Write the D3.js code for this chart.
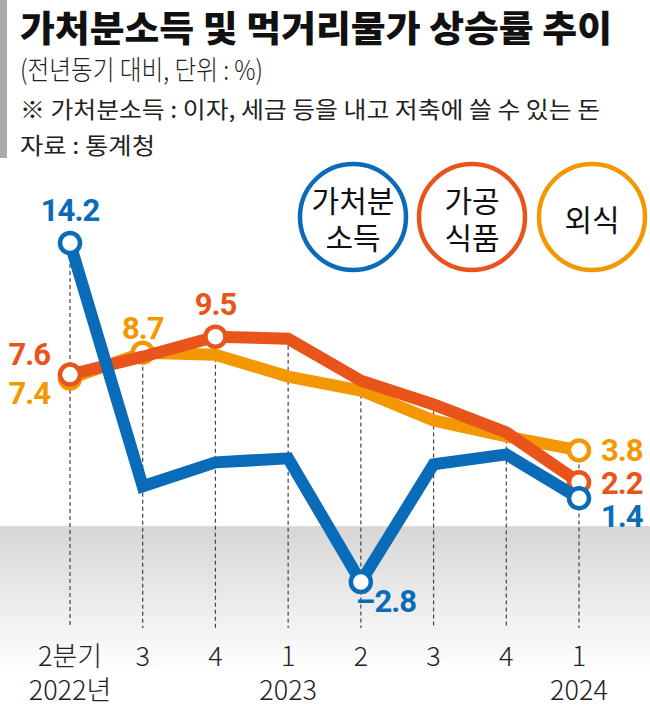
<!DOCTYPE html>
<html><head><meta charset="utf-8">
<script src="https://cdn.jsdelivr.net/npm/d3@7"></script>
<style>body{margin:0;background:#fff}svg{display:block}</style>
</head><body>
<svg id="c" width="650" height="707"></svg>
<script>
const categories = ["2분기","3","4","1","2","3","4","1"];
const yearLabels = ["2022년","","","2023","","","","2024"];
const income = [14.2, 2.0, 3.2, 3.4, -2.8, 3.1, 3.6, 1.4];
const processed = [7.6, 8.5, 9.5, 9.4, 7.3, 6.1, 4.7, 2.2];
const dining = [7.4, 8.7, 8.6, 7.5, 6.8, 5.3, 4.5, 3.8];

const C = {blue:"#0a6cb8", red:"#e8541a", orange:"#f39800"};
const KR = "'Noto Sans CJK KR','Noto Sans',sans-serif";
const NUM = "'Roboto','Liberation Sans',sans-serif";

const svg = d3.select("#c");
const x = d3.scalePoint().domain(d3.range(categories.length)).range([70, 579]);
const y = d3.scaleLinear().domain([-2.8, 14.2]).range([582, 243]);

// gray negative zone gradient
const defs = svg.append("defs");
const g = defs.append("linearGradient").attr("id","gz").attr("x1",0).attr("x2",0).attr("y1",0).attr("y2",1);
g.append("stop").attr("offset","0").attr("stop-color","#d6d6d6");
g.append("stop").attr("offset","0.8").attr("stop-color","#ffffff");
svg.append("rect").attr("x",0).attr("width",650).attr("y",y(0)).attr("height",707-y(0)).attr("fill","url(#gz)");

// header
svg.append("rect").attr("x",0).attr("y",0).attr("width",7).attr("height",158).attr("fill","#a9a9a9");
svg.append("text").attr("x",20).attr("y",42).attr("font-family",KR).attr("font-weight",900)
  .attr("font-size",36).attr("textLength",592).attr("lengthAdjust","spacingAndGlyphs").attr("fill","#111")
  .text("가처분소득 및 먹거리물가 상승률 추이");
svg.append("text").attr("x",20).attr("y",80).attr("font-family",KR).attr("font-weight",300)
  .attr("font-size",27).attr("textLength",243).attr("lengthAdjust","spacingAndGlyphs").attr("fill","#222")
  .text("(전년동기 대비, 단위 : %)");
svg.append("text").attr("x",20).attr("y",118).attr("font-family",KR).attr("font-weight",400)
  .attr("font-size",23).attr("textLength",580).attr("lengthAdjust","spacingAndGlyphs").attr("fill","#222")
  .text("※ 가처분소득 : 이자, 세금 등을 내고 저축에 쓸 수 있는 돈");
svg.append("text").attr("x",20).attr("y",154).attr("font-family",KR).attr("font-weight",400)
  .attr("font-size",23).attr("textLength",135).attr("lengthAdjust","spacingAndGlyphs").attr("fill","#222")
  .text("자료 : 통계청");

// dashed guides
const tops = categories.map((c,i)=>Math.max(income[i],processed[i],dining[i]));
svg.append("g").selectAll("line").data(tops).join("line")
  .attr("x1",(d,i)=>x(i)).attr("x2",(d,i)=>x(i)).attr("y1",d=>y(d)).attr("y2",628)
  .attr("stroke","#444").attr("stroke-width",1.2).attr("stroke-dasharray","4,3");

// x labels (quarter + year in one text element)
const ticks = categories.map((c,i)=>({i, q:c, yr:yearLabels[i]}));
const xl = svg.append("g").selectAll("text").data(ticks).join("text")
  .attr("x",d=>x(d.i)).attr("y",666).attr("text-anchor","middle")
  .attr("font-family",KR).attr("font-weight",300).attr("font-size",27).attr("fill","#222");
xl.append("tspan").attr("x",d=>x(d.i)).text(d=>d.q);
xl.filter(d=>d.yr).append("tspan").attr("x",d=>x(d.i)).attr("dy",34).text(d=>d.yr);

const line = d3.line().x((d,i)=>x(i)).y(d=>y(d)).curve(d3.curveLinear);
function series(vals, color, marks){
  svg.append("path").datum(vals).attr("d",line).attr("fill","none").attr("stroke",color)
    .attr("stroke-width",12).attr("stroke-linejoin","miter");
  svg.append("g").selectAll("circle").data(marks).join("circle")
    .attr("cx",i=>x(i)).attr("cy",i=>y(vals[i])).attr("r",10)
    .attr("fill","#fff").attr("stroke",color).attr("stroke-width",4.5);
}
series(dining, C.orange, [0,1,7]);
series(processed, C.red, [0,2,7]);
series(income, C.blue, [0,4,7]);

// value labels
function lab(txt, xx, yy, color, anchor){
  svg.append("text").attr("x",xx).attr("y",yy).attr("text-anchor",anchor)
    .attr("font-family",NUM).attr("font-weight",700).attr("font-size",31).attr("fill",color)
    .attr("letter-spacing",-1).text(txt);
}
lab("14.2", x(0), y(14.2)-22, C.blue, "middle");
lab("7.6", x(0)-20, y(7.6)-10, C.red, "end");
lab("7.4", x(0)-20, y(7.4)+25, C.orange, "end");
lab("8.7", x(1), y(8.7)-14, C.orange, "middle");
lab("9.5", x(2), y(9.5)-22, C.red, "middle");
lab("3.8", x(7)+22, y(3.8)+11, C.orange, "start");
lab("2.2", x(7)+22, y(2.2)+12, C.red, "start");
lab("1.4", x(7)+22, y(1.4)+29, C.blue, "start");
lab("\u20132.8", x(4)-5, y(-2.8)+30, C.blue, "start");

// legend
const legend = [
  {cx:353, color:C.blue, lines:["가처분","소득"]},
  {cx:472, color:C.red, lines:["가공","식품"]},
  {cx:592, color:C.orange, lines:["외식"]}
];
const lg = svg.append("g").selectAll("g").data(legend).join("g");
lg.append("circle").attr("cx",d=>d.cx).attr("cy",217).attr("r",53).attr("fill","#fff")
  .attr("stroke",d=>d.color).attr("stroke-width",4.5);
lg.each(function(d){
  const n = d.lines.length;
  const t = d3.select(this).append("text").attr("x",d.cx).attr("y", n===1 ? 231 : 212)
    .attr("text-anchor","middle").attr("font-family",KR).attr("font-weight",400)
    .attr("font-size",30).attr("fill","#111");
  t.selectAll("tspan").data(d.lines).join("tspan").attr("x",d.cx)
    .attr("dy",(s,k)=> k===0 ? 0 : 37).text(s=>s);
});
</script>
</body></html>
